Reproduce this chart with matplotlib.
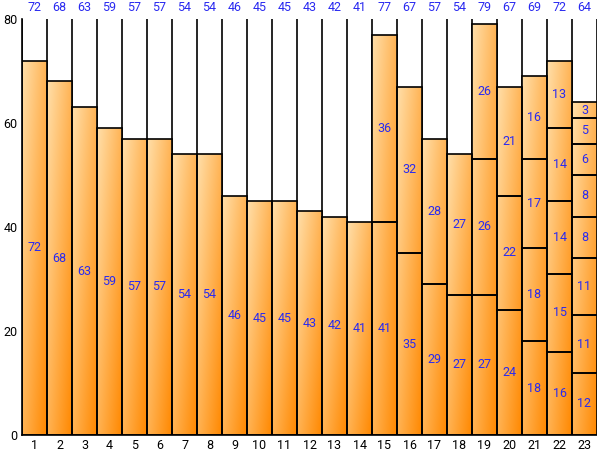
import numpy as np
import matplotlib
matplotlib.use("Agg")
import matplotlib.pyplot as plt
from matplotlib.colors import to_rgb

categories = [str(i) for i in range(1, 24)]
segments = [
    [72], [68], [63], [59], [57], [57], [54], [54], [46], [45], [45], [43], [42], [41],
    [41, 36],
    [35, 32],
    [29, 28],
    [27, 27],
    [27, 26, 26],
    [24, 22, 21],
    [18, 18, 17, 16],
    [16, 15, 14, 14, 13],
    [12, 11, 11, 8, 8, 6, 5, 3],
]
totals = [sum(s) for s in segments]

plt.rcParams['font.family'] = ['Roboto', 'DejaVu Sans']
fig = plt.figure(figsize=(5.97, 4.51), dpi=100)
ax = fig.add_axes([22 / 597, 1 - 435 / 451, 575 / 597, 416 / 451])

x = np.arange(len(categories))
light = np.array(to_rgb('#ffdfaa'))
dark = np.array(to_rgb('#ff8800'))
n = 64
u = np.linspace(0, 1, n)
v = np.linspace(0, 1, n)
uu, vv = np.meshgrid(u, v)
t = (uu + vv) / 2
grad = light[None, None, :] * (1 - t[..., None]) + dark[None, None, :] * t[..., None]

outer = ax.bar(x, totals, width=1, color='none', edgecolor='none')
for xi, tot, patch in zip(x, totals, outer):
    im = ax.imshow(grad, extent=[xi - 0.5, xi + 0.5, 0, tot], origin='upper',
                   aspect='auto', interpolation='bilinear', zorder=1)
    im.set_clip_path(patch)

blue = '#2a2af0'
for xi, segs in zip(x, segments):
    bottom = 0
    for s in segs:
        ax.bar(xi, s, bottom=bottom, width=1, facecolor='none', edgecolor='black',
               linewidth=1.2, zorder=2)
        ax.text(xi, bottom + s / 2, str(s), ha='center', va='center',
                color=blue, fontsize=9, zorder=3)
        bottom += s

# totals above the plot area
for xi, tot in zip(x, totals):
    ax.text(xi, 82.3, str(tot), ha='center', va='center', color=blue,
            fontsize=9, clip_on=False)

for b in np.arange(len(categories) + 1) - 0.5:
    ax.axvline(b, color='black', linewidth=1.2, zorder=0.5)

ax.set_xlim(-0.5, len(categories) - 0.5)
ax.set_ylim(0, 80)
ax.set_xticks(x)
ax.set_xticklabels(categories)
ax.set_yticks([0, 20, 40, 60, 80])
ax.tick_params(length=0, labelsize=9, pad=3)
for side in ['top', 'right']:
    ax.spines[side].set_visible(False)
ax.spines['left'].set_linewidth(1.2)
ax.spines['bottom'].set_linewidth(1.2)

fig.savefig('out.png', dpi=100)
